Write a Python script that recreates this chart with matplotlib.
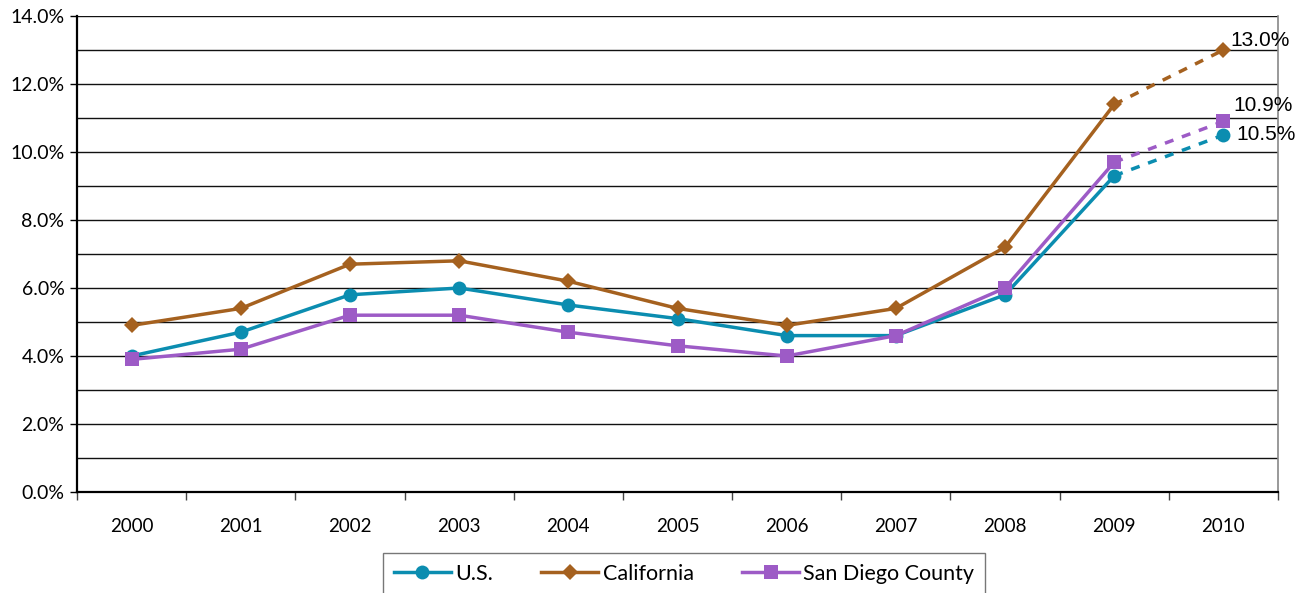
import matplotlib
matplotlib.use("Agg")
import matplotlib.pyplot as plt
from matplotlib.ticker import FixedLocator, PercentFormatter

years = ["2000", "2001", "2002", "2003", "2004", "2005", "2006", "2007", "2008", "2009", "2010"]
us = [4.0, 4.7, 5.8, 6.0, 5.5, 5.1, 4.6, 4.6, 5.8, 9.3, 10.5]
california = [4.9, 5.4, 6.7, 6.8, 6.2, 5.4, 4.9, 5.4, 7.2, 11.4, 13.0]
san_diego = [3.9, 4.2, 5.2, 5.2, 4.7, 4.3, 4.0, 4.6, 6.0, 9.7, 10.9]

series = [
    ("U.S.", us, "#0b8db0", "o", 10),
    ("California", california, "#a5611f", "D", 8),
    ("San Diego County", san_diego, "#9d5bc6", "s", 9.5),
]

plt.rcParams["font.family"] = ["Lato", "DejaVu Sans"]

fig = plt.figure(figsize=(13.12, 5.93), dpi=100)
ax = fig.add_axes([77 / 1312, 101 / 593, 1201 / 1312, 476 / 593])

x = list(range(len(years)))
handles = []
for name, vals, color, marker, ms in series:
    (h,) = ax.plot(x[:-1], vals[:-1], color=color, lw=2.5, marker=marker,
                   markersize=ms, markeredgewidth=0, label=name, zorder=3)
    ax.plot(x[-2:], vals[-2:], color=color, lw=2.5, ls=(0, (2.6, 2.6)),
            zorder=3)
    ax.plot(x[-1], vals[-1], color=color, marker=marker, markersize=ms,
            markeredgewidth=0, zorder=4)
    handles.append(h)

# value labels on the 2010 points
label_offsets = {"U.S.": (9.5, 0), "California": (5, 7), "San Diego County": (7, 11.5)}
for name, vals, color, marker, ms in series:
    dx, dy = label_offsets[name]
    ax.annotate(f"{vals[-1]:.1f}%", (x[-1], vals[-1]), xytext=(dx, dy),
                textcoords="offset points", fontsize=15, va="center",
                ha="left", family=["Liberation Sans", "DejaVu Sans"],
                annotation_clip=False)

ax.set_xlim(-0.5, len(years) - 0.5)
ax.set_ylim(0, 14)

ax.yaxis.set_major_locator(FixedLocator([0, 2, 4, 6, 8, 10, 12, 14]))
ax.yaxis.set_minor_locator(FixedLocator(list(range(0, 15))))
ax.yaxis.set_major_formatter(PercentFormatter(decimals=1))
ax.grid(axis="y", which="both", color="#111111", lw=1.0, zorder=1)
ax.set_axisbelow(True)
ax.tick_params(axis="y", which="major", length=5, width=1, labelsize=14,
               pad=4)
ax.tick_params(axis="y", which="minor", length=0)

ax.set_xticks(x)
ax.set_xticklabels(years)
ax.set_xticks([i - 0.5 for i in range(len(years) + 1)], minor=True)
ax.tick_params(axis="x", which="major", length=0, labelsize=13.5, pad=19)
ax.tick_params(axis="x", which="minor", length=6, width=1, color="#444444")

ax.spines["left"].set_linewidth(1.6)
ax.spines["bottom"].set_linewidth(1.6)
ax.spines["top"].set_visible(False)
ax.spines["right"].set_color("#888888")
ax.spines["right"].set_linewidth(1.2)

leg = fig.legend(handles=handles, loc="upper center",
                 bbox_to_anchor=(684 / 1312, 40 / 593), ncol=3,
                 frameon=True, fancybox=False, fontsize=15.5,
                 handlelength=2.65, handletextpad=0.2, columnspacing=2.25,
                 borderpad=0.5, borderaxespad=0)
leg.get_frame().set_edgecolor("#555555")
leg.get_frame().set_linewidth(1.0)

fig.savefig("out.png", dpi=100)
